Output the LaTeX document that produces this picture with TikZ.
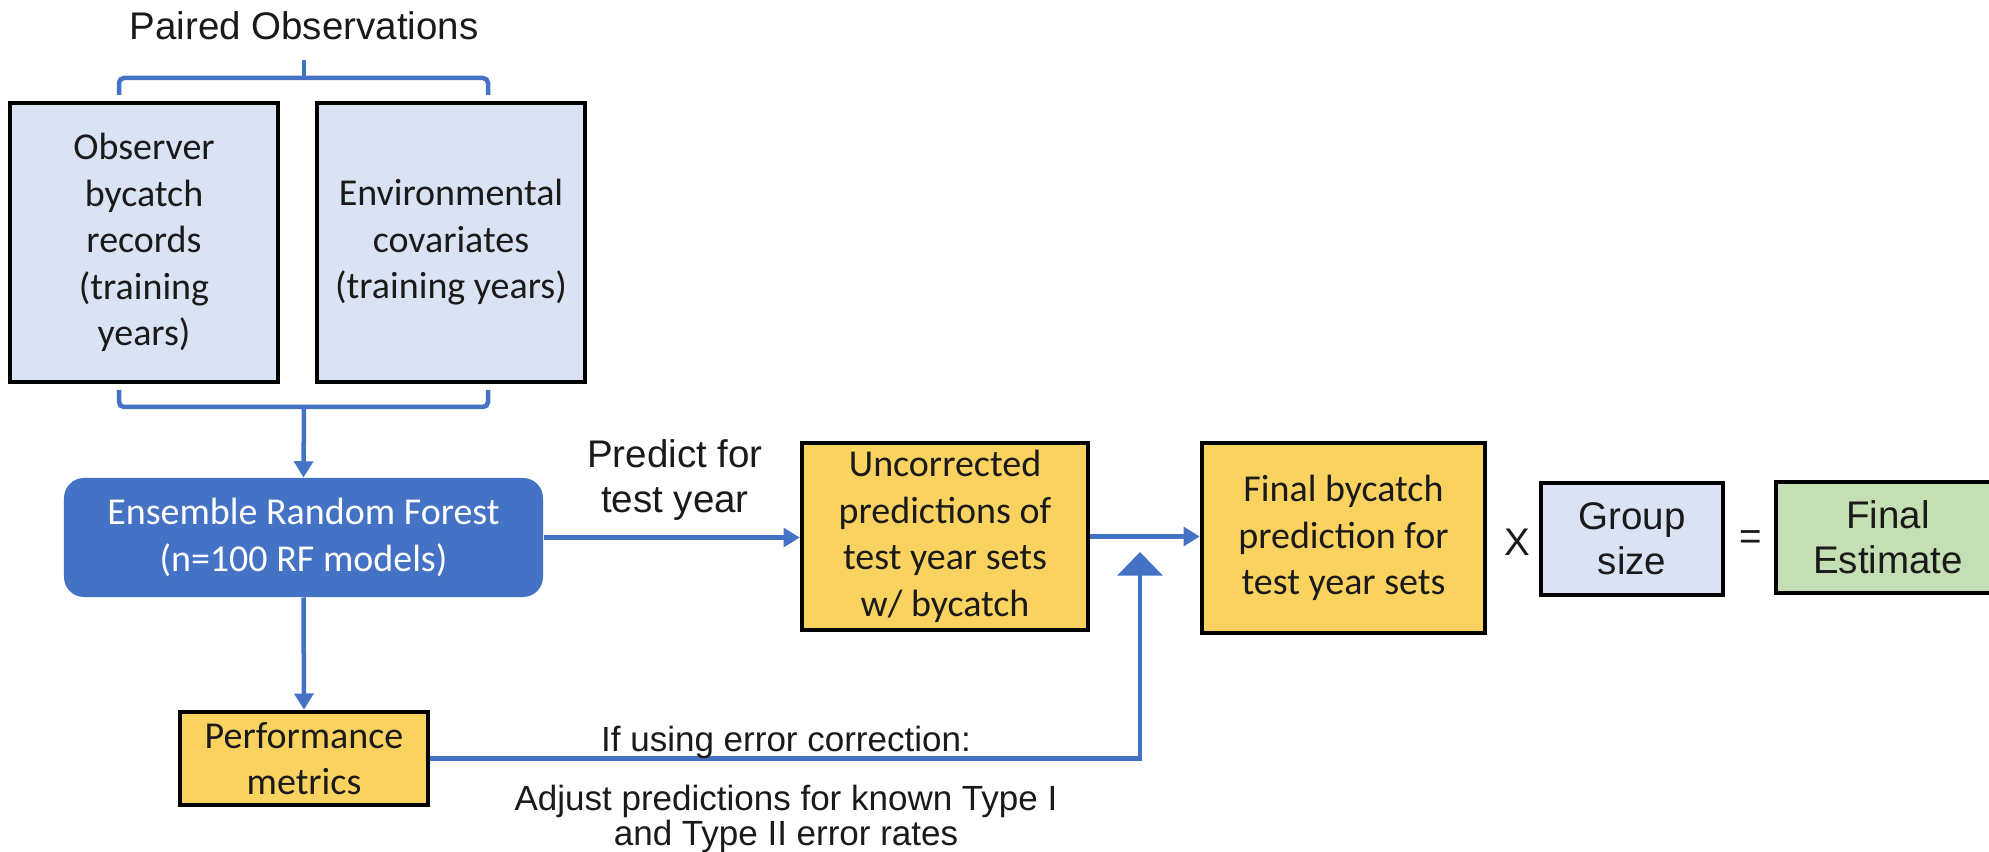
\documentclass[tikz,border=0pt]{standalone}
\usepackage{fontspec}
\setmainfont{Carlito}
\newfontfamily\arialfont{Liberation Sans}
\usetikzlibrary{arrows.meta}

\definecolor{flowblue}{HTML}{4472C4}
\definecolor{paleblue}{HTML}{DAE3F3}
\definecolor{gold}{HTML}{F9D25F}
\definecolor{sage}{HTML}{C5DFB5}
\definecolor{ink}{HTML}{1A1A1A}

\newcommand\boxfont{\fontsize{15.2}{18.6}\selectfont}
\newcommand\labfont{\arialfont\fontsize{15.4}{18}\selectfont}
\newcommand\notefont{\arialfont\fontsize{14}{14}\selectfont}

\tikzset{
  inbox/.style={draw=black, line width=1.8pt, align=center, inner sep=0pt,
    text=ink, font=\boxfont},
  inputbox/.style={inbox, fill=paleblue, minimum width=107.2pt, minimum height=111.6pt},
  resultbox/.style={inbox, fill=gold},
  erfbox/.style={fill=flowblue, rounded corners=8pt, align=center, text=white,
    font=\boxfont, minimum width=191.6pt, minimum height=47.6pt, inner sep=0pt},
  lbl/.style={align=center, text=ink, font=\labfont, inner sep=0pt},
  note/.style={align=center, text=ink, font=\notefont, inner sep=0pt},
  bracket/.style={draw=flowblue, line width=1.8pt, rounded corners=2pt},
  flow/.style={draw=flowblue, line width=1.8pt, -{Triangle[length=6.5pt,width=7.5pt]}},
  corrflow/.style={draw=flowblue, line width=1.8pt, -{Triangle[length=9.5pt,width=18pt]}},
}

\begin{document}
\begin{tikzpicture}[x=0.4pt,y=-0.4pt]
\useasboundingbox (0,0) rectangle (1989,852);
\fill[white] (0,0) rectangle (1989,852);
\clip (0,0) rectangle (1989,852);

% paired inputs
\node[lbl] (paired) at (304,26) {Paired Observations};
\node[inputbox] (obs) at (144,242.5) {Observer\\bycatch\\records\\(training\\years)};
\node[inputbox] (env) at (451,242.5) {Environmental\\covariates\\(training years)};

% brackets above and below the inputs
\coordinate (tbl) at (119,95);
\coordinate (tbr) at (488,95);
\coordinate (tbc) at (304,78);
\coordinate (tbt) at (304,60);
\draw[bracket] (tbl) -- (tbl |- tbc) -- (tbr |- tbc) -- (tbr);
\draw[bracket] (tbc) -- (tbt);
\coordinate (bbl) at (119,390);
\coordinate (bbr) at (488,390);
\coordinate (bbc) at (304,407);
\draw[bracket] (bbl) -- (bbl |- bbc) -- (bbr |- bbc) -- (bbr);

% model and outputs
\node[erfbox] (erf) at (303.5,537.5) {Ensemble Random Forest\\(n=100 RF models)};
\node[lbl] (pred) at (675,480) {Predict for\\test year};
\node[resultbox, minimum width=114.4pt, minimum height=74.8pt] (unc) at (945,536.5)
  {Uncorrected\\predictions of\\test year sets\\w/ bycatch};
\node[resultbox, minimum width=113.2pt, minimum height=76pt] (fin) at (1343.5,538)
  {Final bycatch\\prediction for\\test year sets};
\node[lbl] (times) at (1517,542) {X};
\node[inbox, fill=paleblue, font=\labfont, minimum width=72.8pt, minimum height=44.8pt]
  (grp) at (1632,539) {Group\\size};
\node[lbl] (eq) at (1751,540) {=};
\node[inbox, fill=sage, font=\labfont, minimum width=89.6pt, minimum height=44.4pt]
  (est) at (1888,537.5) {Final\\Estimate};
\node[resultbox, minimum width=99.2pt, minimum height=37.2pt] (perf) at (304,758.5)
  {Performance\\metrics};

% connectors
\draw[flow] (bbc) -- (erf.north);
\draw[flow] (erf.east) -- (erf.east -| unc.west);
\draw[flow] (unc.east) -- (unc.east -| fin.west);
\draw[flow] (erf.south) -- (perf.north);
\coordinate (jtip) at (1140,552);
\draw[corrflow] (perf.east) -| (jtip);

% error-correction notes
\node[note] (ifuse) at (786,742) {If using error correction:};
\node[note] (adjust) at (786,819) {Adjust predictions for known Type I\\and Type II error rates};
\end{tikzpicture}
\end{document}
